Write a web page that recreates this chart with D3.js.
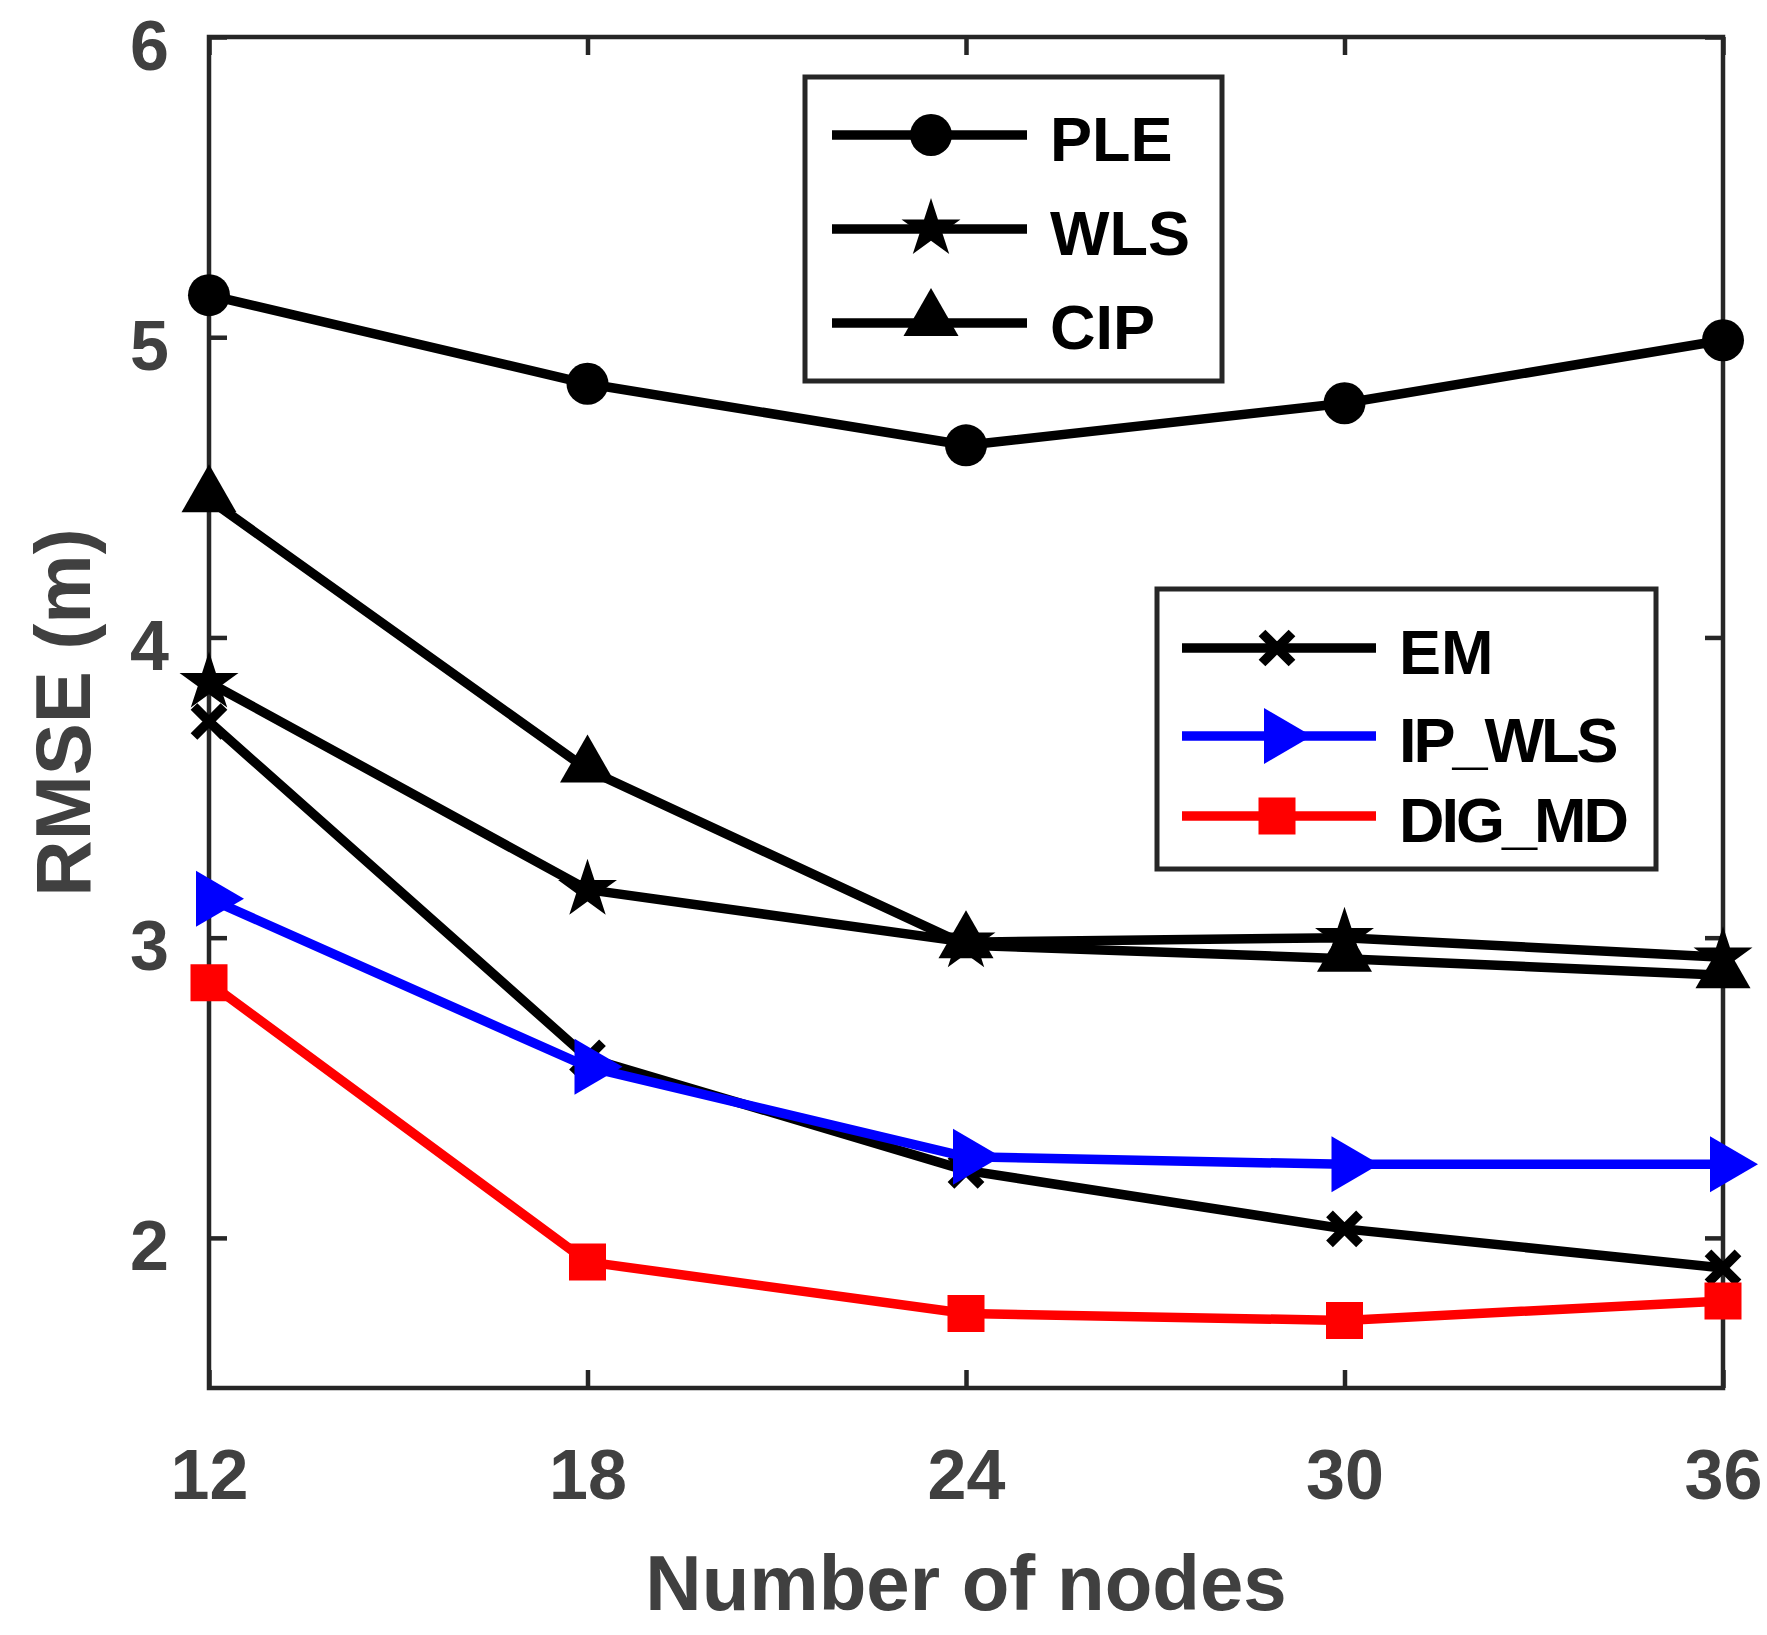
<!DOCTYPE html>
<html lang="en">
<head>
  <meta charset="UTF-8">
  <script src="https://d3js.org/d3.v7.min.js"></script>
  <title>RMSE vs number of nodes</title>
  <style>
    body { margin: 0; background: #fff; }
    text { font-family: "Liberation Sans", Arial, sans-serif; font-weight: bold; }
  </style>
</head>
<body>
  <script>
    // data
    var nodes = [12, 18, 24, 30, 36];
    var ple = [5.14, 4.845, 4.64, 4.78, 4.99];
    var wls = [3.85, 3.16, 2.985, 3.0, 2.935];
    var cip = [4.46, 3.56, 2.975, 2.93, 2.875];
    var em = [3.72, 2.60, 2.225, 2.03, 1.90];
    var ipWls = [3.13, 2.57, 2.27, 2.245, 2.245];
    var digMd = [2.85, 1.92, 1.748, 1.725, 1.79];
    var yTicks = [2, 3, 4, 5, 6];

    var W = 1767, H = 1635;
    var margin = {top: 37, right: 44, bottom: 247, left: 209};
    var width = W - margin.left - margin.right,
        height = H - margin.top - margin.bottom;

    var axisColor = '#262626', labelColor = '#404040';
    var lw = 9.5;

    // marker shapes
    var markers = {
      circle: function(s) { s.append('path').attr('d', d3.symbol(d3.symbolCircle, Math.PI * 21 * 21)()); },
      star: function(s) { s.append('path').attr('d', d3.symbol(d3.symbolStar, 1079)()); },
      triUp: function(s) { s.append('path').attr('d', 'M0,-35L27.5,13L-27.5,13Z'); },
      triRight: function(s) { s.append('path').attr('d', 'M35,0L-13,-28L-13,28Z'); },
      square: function(s) { s.append('path').attr('d', d3.symbol(d3.symbolSquare, 37 * 37)()); },
      cross: function(s) {
        s.append('path').attr('d', 'M-15,-15L15,15M-15,15L15,-15')
          .attr('fill', 'none').attr('stroke-width', lw);
      }
    };

    var series = [
      {name: 'PLE', values: ple, color: '#000000', marker: 'circle'},
      {name: 'WLS', values: wls, color: '#000000', marker: 'star'},
      {name: 'CIP', values: cip, color: '#000000', marker: 'triUp'},
      {name: 'EM', values: em, color: '#000000', marker: 'cross'},
      {name: 'IP_WLS', values: ipWls, color: '#0000ff', marker: 'triRight'},
      {name: 'DIG_MD', values: digMd, color: '#ff0000', marker: 'square'}
    ];

    var svg = d3.select('body').append('svg')
      .attr('width', W).attr('height', H);

    var g = svg.append('g')
      .attr('transform', 'translate(' + margin.left + ',' + margin.top + ')');

    var x = d3.scaleLinear().domain([12, 36]).range([0, width]);
    var y = d3.scaleLinear().domain([1.5, 6]).range([height, 0]);

    // axes with inward ticks, mirrored on top/right
    function styleAxis(sel) {
      sel.select('.domain').remove();
      sel.selectAll('.tick line').attr('stroke', axisColor).attr('stroke-width', 4.5);
      sel.selectAll('.tick text').attr('fill', labelColor).attr('font-size', 70)
        .attr('font-family', '"Liberation Sans", Arial, sans-serif').attr('font-weight', 'bold');
    }

    g.append('g')
      .attr('transform', 'translate(0,' + height + ')')
      .call(d3.axisBottom(x).tickValues(nodes).tickSize(-18).tickPadding(0).tickFormat(d3.format('d')))
      .call(styleAxis)
      .selectAll('.tick text').attr('dy', null).attr('y', 111);

    g.append('g')
      .call(d3.axisTop(x).tickValues(nodes).tickSize(-18).tickFormat(''))
      .call(styleAxis);

    g.append('g')
      .call(d3.axisLeft(y).tickValues(yTicks).tickSize(-18).tickPadding(40).tickFormat(d3.format('d')))
      .call(styleAxis)
      .selectAll('.tick text').attr('dy', null).attr('y', 32);

    g.append('g')
      .attr('transform', 'translate(' + width + ',0)')
      .call(d3.axisRight(y).tickValues(yTicks).tickSize(-18).tickFormat(''))
      .call(styleAxis);

    // box
    g.append('rect')
      .attr('width', width).attr('height', height)
      .attr('fill', 'none').attr('stroke', axisColor).attr('stroke-width', 4.5);

    // series
    var line = d3.line()
      .x(function(d, i) { return x(nodes[i]); })
      .y(function(d) { return y(d); });

    series.forEach(function(s) {
      var sg = g.append('g');
      sg.append('path')
        .datum(s.values)
        .attr('d', line)
        .attr('fill', 'none')
        .attr('stroke', s.color)
        .attr('stroke-width', lw)
        .attr('stroke-linejoin', 'round');
      sg.selectAll('g.mk')
        .data(s.values)
        .enter().append('g')
        .attr('class', 'mk')
        .attr('fill', s.color)
        .attr('stroke', s.color)
        .attr('stroke-width', 0)
        .attr('transform', function(d, i) { return 'translate(' + x(nodes[i]) + ',' + y(d) + ')'; })
        .each(function() { markers[s.marker](d3.select(this)); });
    });

    // legends
    function legend(items, box, lineX0, lineX1, markX, textX, rows) {
      svg.append('rect')
        .attr('x', box.x).attr('y', box.y).attr('width', box.w).attr('height', box.h)
        .attr('fill', '#fff').attr('stroke', axisColor).attr('stroke-width', 5);
      items.forEach(function(s, i) {
        var ry = rows[i];
        svg.append('line')
          .attr('x1', lineX0).attr('x2', lineX1).attr('y1', ry).attr('y2', ry)
          .attr('stroke', s.color).attr('stroke-width', lw);
        var mk = svg.append('g')
          .attr('fill', s.color).attr('stroke', s.color).attr('stroke-width', 0)
          .attr('transform', 'translate(' + markX + ',' + ry + ')');
        markers[s.marker](mk);
        svg.append('text')
          .attr('x', textX).attr('y', ry + 26)
          .attr('font-size', 63).attr('fill', '#000')
          .attr('letter-spacing', s.name.indexOf('_') >= 0 ? -3 : 0)
          .text(s.name);
      });
    }

    legend(series.slice(0, 3), {x: 805, y: 77, w: 417, h: 304}, 832, 1027, 931, 1050, [135, 229, 323]);
    legend(series.slice(3), {x: 1157, y: 589, w: 499, h: 280}, 1182, 1376, 1277, 1399, [648, 736, 816]);

    // axis labels
    svg.append('text')
      .attr('x', margin.left + width / 2).attr('y', 1610)
      .attr('text-anchor', 'middle').attr('font-size', 78).attr('fill', labelColor)
      .text('Number of nodes');

    svg.append('text')
      .attr('transform', 'translate(90,' + (margin.top + height / 2) + ') rotate(-90)')
      .attr('text-anchor', 'middle').attr('font-size', 78).attr('fill', labelColor)
      .text('RMSE (m)');
  </script>
</body>
</html>
